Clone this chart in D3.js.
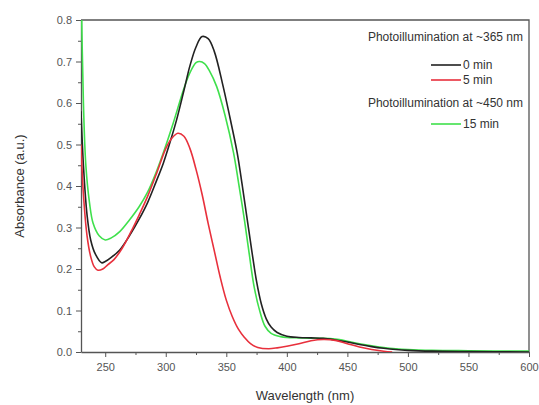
<!DOCTYPE html>
<html>
<head>
<meta charset="utf-8">
<script src="https://cdn.jsdelivr.net/npm/d3@7"></script>
<style>
  body { margin: 0; background: #fff; }
  svg { display: block; font-family: "Liberation Sans", Arial, sans-serif; }
</style>
</head>
<body>
<svg id="chart"></svg>
<script>
// wavelength (nm) and absorbance
const wl0 = [230, 232, 235, 238, 242, 247, 250, 255, 262, 270, 278, 285, 292, 298, 304, 309, 315, 320, 325, 330, 335, 340, 347, 353, 359, 363, 367, 371, 375, 379, 383, 387, 392, 400, 410, 420, 430, 440, 450, 460, 470, 480, 490, 500, 520, 550, 600];
const abs0 = [0.58, 0.45, 0.33, 0.27, 0.235, 0.215, 0.218, 0.228, 0.246, 0.28, 0.32, 0.36, 0.41, 0.455, 0.51, 0.56, 0.63, 0.69, 0.735, 0.76, 0.755, 0.725, 0.645, 0.565, 0.48, 0.405, 0.325, 0.245, 0.17, 0.115, 0.08, 0.06, 0.047, 0.038, 0.035, 0.034, 0.033, 0.029, 0.024, 0.018, 0.013, 0.009, 0.006, 0.004, 0.002, 0.001, 0.0];

const wl5 = [230, 232, 235, 238, 241, 244, 248, 252, 257, 264, 271, 278, 285, 293, 300, 305, 310, 315, 320, 325, 330, 335, 340, 345, 350, 355, 360, 365, 370, 376, 385, 392, 400, 410, 420, 430, 440, 450, 460, 470, 480, 487];
const abs5 = [0.50, 0.38, 0.28, 0.23, 0.205, 0.197, 0.20, 0.21, 0.222, 0.25, 0.288, 0.33, 0.375, 0.435, 0.49, 0.515, 0.527, 0.52, 0.49, 0.44, 0.38, 0.31, 0.245, 0.18, 0.125, 0.085, 0.055, 0.035, 0.02, 0.011, 0.008, 0.01, 0.014, 0.02, 0.027, 0.03, 0.028, 0.02, 0.012, 0.006, 0.002, 0.0];

const wl15 = [230, 232, 234, 237, 240, 245, 250, 255, 262, 270, 278, 285, 291, 298, 306, 315, 320, 325, 328, 332, 336, 342, 349, 356, 360, 365, 369, 373, 378, 382, 387, 395, 400, 410, 420, 430, 440, 450, 460, 470, 480, 490, 500, 520, 550, 600];
const abs15 = [0.9, 0.6, 0.45, 0.36, 0.31, 0.28, 0.27, 0.275, 0.29, 0.318, 0.35, 0.385, 0.425, 0.48, 0.55, 0.635, 0.673, 0.697, 0.70, 0.695, 0.678, 0.64, 0.57, 0.48, 0.41, 0.318, 0.235, 0.157, 0.095, 0.062, 0.045, 0.037, 0.035, 0.034, 0.033, 0.033, 0.031, 0.026, 0.02, 0.015, 0.011, 0.008, 0.006, 0.004, 0.003, 0.002];

const seriesNames = ["0 min", "5 min", "15 min"];
const seriesColors = ["#222222", "#e8303c", "#3fe04c"];
const legendHeads = ["Photoillumination at ~365 nm", "Photoillumination at ~450 nm"];
const xTicks = [250, 300, 350, 400, 450, 500, 550, 600];
const yTicks = [0.0, 0.1, 0.2, 0.3, 0.4, 0.5, 0.6, 0.7, 0.8];

const width = 539, height = 405;
const margin = { top: 20, right: 10, bottom: 53, left: 81 };
const iw = width - margin.left - margin.right;
const ih = height - margin.top - margin.bottom;

const svg = d3.select("#chart").attr("width", width).attr("height", height);

const x = d3.scaleLinear().domain([230, 600]).range([0, iw]);
const y = d3.scaleLinear().domain([0, 0.8]).range([ih, 0]);

const g = svg.append("g").attr("transform", `translate(${margin.left},${margin.top})`);

g.append("clipPath").attr("id", "clip")
  .append("rect").attr("width", iw).attr("height", ih);

// minor ticks
g.append("g").attr("transform", `translate(0,${ih})`)
  .call(d3.axisBottom(x).tickValues(d3.range(250, 600, 25).filter(v => v % 50 !== 0)).tickSize(3).tickFormat(""))
  .call(a => a.select(".domain").remove())
  .selectAll("line").attr("stroke", "#555");
g.append("g")
  .call(d3.axisLeft(y).tickValues(d3.range(0.05, 0.8, 0.1)).tickSize(3).tickFormat(""))
  .call(a => a.select(".domain").remove())
  .selectAll("line").attr("stroke", "#555");

// major axes
const xAxis = g.append("g").attr("transform", `translate(0,${ih})`)
  .call(d3.axisBottom(x).tickValues(xTicks).tickSize(5).tickSizeOuter(0).tickPadding(6));
const yAxis = g.append("g")
  .call(d3.axisLeft(y).tickValues(yTicks).tickSize(5).tickSizeOuter(0).tickPadding(4).tickFormat(d3.format(".1f")));
[xAxis, yAxis].forEach(a => {
  a.selectAll("text").attr("fill", "#555").style("font-size", "11px");
  a.selectAll("line").attr("stroke", "#555");
  a.select(".domain").attr("stroke", "#555").attr("stroke-width", 1.3);
});

// frame top/right
g.append("path")
  .attr("d", `M0,0H${iw}V${ih}`)
  .attr("fill", "none").attr("stroke", "#555").attr("stroke-width", 1.3);

// curves
const line = d3.line().x(d => x(d[0])).y(d => y(d[1])).curve(d3.curveCatmullRom.alpha(0.5));
const series = [d3.zip(wl15, abs15), d3.zip(wl0, abs0), d3.zip(wl5, abs5)];
const order = [2, 0, 1];
g.append("g").attr("clip-path", "url(#clip)")
  .selectAll("path")
  .data(series)
  .enter()
  .append("path")
  .attr("d", line)
  .attr("fill", "none")
  .attr("stroke", (d, i) => seriesColors[order[i]])
  .attr("stroke-width", 1.6);

// legend
const lg = svg.append("g").style("font-size", "12px").attr("fill", "#333");
const rightX = 523;
lg.append("text").attr("x", rightX).attr("y", 41).attr("text-anchor", "end").text(legendHeads[0]);
lg.append("text").attr("x", rightX).attr("y", 107).attr("text-anchor", "end").text(legendHeads[1]);
const entryY = [65, 80, 124];
seriesNames.forEach((name, i) => {
  lg.append("line")
    .attr("x1", 431).attr("x2", 461)
    .attr("y1", entryY[i]).attr("y2", entryY[i])
    .attr("stroke", seriesColors[i]).attr("stroke-width", 1.6);
  lg.append("text").attr("x", 463).attr("y", entryY[i] + 4).text(name);
});

// axis titles
svg.append("text")
  .attr("x", margin.left + iw / 2).attr("y", 400)
  .attr("text-anchor", "middle").style("font-size", "13px").attr("fill", "#333")
  .text("Wavelength (nm)");
svg.append("text")
  .attr("transform", `translate(24,${margin.top + ih / 2}) rotate(-90)`)
  .attr("text-anchor", "middle").style("font-size", "13px").attr("fill", "#333")
  .text("Absorbance (a.u.)");
</script>
</body>
</html>
